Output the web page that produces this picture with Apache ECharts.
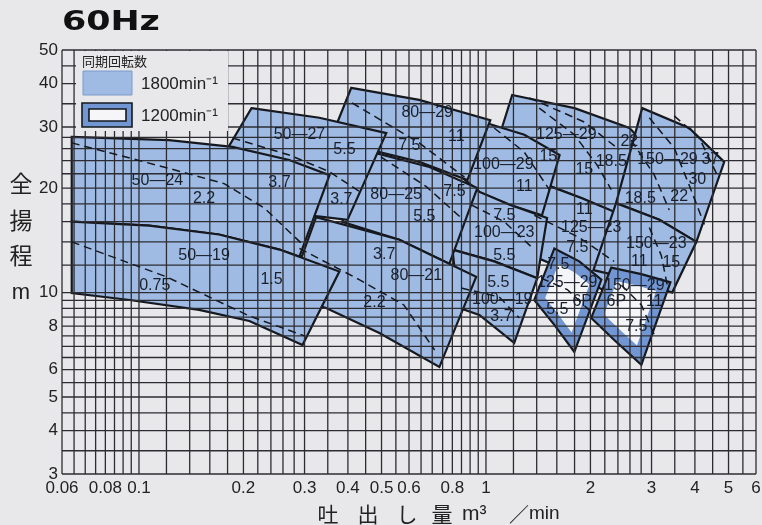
<!DOCTYPE html>
<html><head><meta charset="utf-8">
<script src="https://cdn.jsdelivr.net/npm/echarts@6/dist/echarts.min.js"></script>
<style>html,body{margin:0;padding:0;background:#e8e8ea}#c{width:762px;height:525px}</style>
</head><body><div id="c"></div>
<script>
// ---- grid / tick values ----
const gridQ = [0.06,0.065,0.07,0.075,0.08,0.085,0.09,0.095,0.1,0.12,0.14,0.16,0.18,0.2,0.22,0.24,0.26,0.28,0.3,0.35,0.4,0.45,0.5,0.55,0.6,0.65,0.7,0.75,0.8,0.85,0.9,0.95,1,1.2,1.4,1.6,1.8,2,2.2,2.4,2.6,2.8,3,3.5,4,4.5,5,5.5,6];
const gridH = [3,3.5,4,4.5,5,5.5,6,6.5,7,7.5,8,8.5,9,9.5,10,12,14,16,18,20,22,24,26,28,30,35,40,45,50];
const xTickValues = [0.06,0.08,0.1,0.2,0.3,0.4,0.5,0.6,0.8,1,2,3,4,5,6];
const xTickLabels = ['0.06','0.08','0.1','0.2','0.3','0.4','0.5','0.6','0.8','1','2','3','4','5','6'];
const yTickValues = [50,40,30,20,10,8,6,5,4,3];
const yTickLabels = ['50','40','30','20','10','8','6','5','4','3'];

// ---- pump regions [flow m3/min, head m] (top curve L->R, bottom curve R->L) ----
const r125_29 = [[1.19,37.1],[1.80,34.0],[2.59,29.8],[2.80,27.5],[2.50,16.6],[1.89,18.7],[1.50,20.4],[1.04,24.1]];
const r125_23 = [[1.50,20.4],[1.89,18.7],[2.37,17.0],[2.64,14.9],[2.24,10.0],[1.74,11.5],[1.28,13.1]];
const r150_29 = [[2.82,34.0],[3.85,29.8],[4.86,23.8],[4.04,14.0],[3.16,16.2],[2.37,18.1]];
const r150_23 = [[2.37,18.1],[3.16,16.2],[4.04,14.0],[3.44,10.0],[2.68,10.9],[2.04,11.6]];
const r100_29 = [[0.98,31.0],[1.29,28.5],[1.63,24.9],[1.45,16.7],[1.17,17.9],[0.957,19.5],[0.85,21.5]];
const r100_23 = [[0.884,20.8],[0.957,19.5],[1.17,17.9],[1.50,16.4],[1.405,11.0],[1.056,12.3],[0.80,13.3]];
const r100_19 = [[0.80,13.3],[1.056,12.3],[1.405,11.0],[1.206,7.16],[0.957,8.62],[0.838,9.03]];
const r80_29 = [[0.409,38.9],[0.642,35.9],[1.029,31.4],[0.884,21.1],[0.642,23.8],[0.493,25.4],[0.356,27.5]];
const r50_27 = [[0.211,34.0],[0.331,31.9],[0.516,28.8],[0.399,16.2],[0.324,16.6],[0.254,17.9],[0.154,20.0]];
const r80_25 = [[0.47,25.4],[0.687,23.0],[0.944,20.0],[0.784,12.1],[0.563,14.2],[0.385,16.0]];
const r80_21 = [[0.324,16.5],[0.563,14.2],[0.937,11.1],[0.734,6.10],[0.493,7.65],[0.346,9.03],[0.268,9.78]];
const r50_24 = [[0.064,28.1],[0.122,27.5],[0.186,26.3],[0.271,24.1],[0.354,21.8],[0.290,12.7],[0.254,13.3],[0.170,14.7],[0.107,15.6],[0.064,16.0]];
const r50_19 = [[0.064,16.0],[0.107,15.6],[0.170,14.7],[0.254,13.3],[0.378,11.5],[0.296,7.06],[0.208,8.28],[0.149,8.91],[0.094,9.52],[0.064,9.97]];
const r125_29_6p = [[1.574,13.4],[1.857,12.3],[2.15,10.9],[1.797,6.74],[1.574,8.07],[1.378,9.52]];
const r150_29_6p = [[2.296,11.8],[2.804,11.3],[3.40,10.7],[2.804,6.19],[2.342,7.30],[2.011,8.45]];

// ---- motor power boundaries (dashed) ----
const d50_24 = [[0.064,27.0],[0.120,22.9],[0.176,20.6],[0.230,17.5],[0.293,13.9]];
const d50_19 = [[0.064,14.0],[0.120,11.1],[0.208,8.56],[0.300,7.5]];
const d50_27 = [[0.186,27.9],[0.271,24.9],[0.354,22.3],[0.437,19.4]];
const d80_29 = [[0.411,35.2],[0.642,27.0],[0.867,21.5]];
const d80_25 = [[0.498,24.6],[0.673,20.2],[0.849,16.4]];
const d80_21 = [[0.290,13.4],[0.431,10.9],[0.580,9.21],[0.711,6.83]];
const d100_29 = [[1.056,29.8],[1.289,25.4],[1.522,19.8]];
const d100_23 = [[0.907,17.9],[1.129,16.0],[1.378,13.3]];
const d100_19 = [[0.849,10.3],[1.092,9.71],[1.247,8.45]];
const d125_29a = [[1.333,36.4],[1.920,31.0],[2.421,25.8]];
const d125_29b = [[1.424,34.0],[1.797,28.5],[2.09,23.3],[2.296,19.8]];
const d125_23 = [[1.378,16.7],[1.857,14.4],[2.34,12.3]];
const d150_29a = [[3.487,32.3],[4.119,27.9],[4.64,21.8]];
const d150_29b = [[2.956,31.9],[3.487,26.1],[3.851,20.4],[4.26,15.7]];
const d150_29c = [[2.62,27.5],[3.056,21.8],[3.374,17.3]];
const d150_23 = [[2.956,15.4],[3.20,12.8],[3.33,10.5]];
const d125_6p = [[1.443,11.0],[1.715,10.2],[2.011,8.79]];
const d150_6p = [[2.455,10.5],[2.804,9.21],[3.056,7.55]];

// ---- labels [text, flow, head] ----
const regionLabels = [
  ['50—24',0.113,21.0],['2.2',0.154,18.6],['3.7',0.254,20.7],
  ['50—19',0.154,12.8],['0.75',0.111,10.5],['1.5',0.241,10.9],
  ['50—27',0.290,28.5],['5.5',0.391,25.8],['3.7',0.383,18.5],
  ['80—29',0.677,32.9],['7.5',0.601,26.6],['11',0.821,28.1],
  ['80—25',0.551,19.1],['5.5',0.664,16.5],['7.5',0.811,19.5],
  ['3.7',0.509,12.9],['80—21',0.630,11.2],['2.2',0.477,9.33],
  ['100—29',1.122,23.3],['11',1.289,20.2],['15',1.512,24.6],
  ['7.5',1.129,16.7],['100—23',1.129,14.85],['5.5',1.129,12.8],
  ['5.5',1.085,10.66],['100—19',1.114,9.52],['3.7',1.108,8.5],
  ['125—29',1.704,28.5],['15',1.92,22.6],['18.5',2.296,23.8],['22',2.588,27.2],
  ['150—29',3.334,24.1],['37',4.43,24.1],['30',4.064,21.1],['22',3.605,18.9],['18.5',2.784,18.7],
  ['11',1.92,17.3],['125—23',2.011,15.4],['7.5',1.833,13.5],
  ['150—23',3.096,13.8],['11',2.767,12.3],['15',3.42,12.2],
  ['7.5',1.616,12.0],['125—29',1.715,10.66],['6P',1.894,9.40],['5.5',1.605,8.91],
  ['150—29',2.676,10.5],['6P',2.374,9.40],['11',3.056,9.40],['7.5',2.711,7.96]
];

const regionList = [
  {pts:r125_29,k:'a'},{pts:r125_23,k:'a'},{pts:r150_29,k:'a'},{pts:r150_23,k:'a'},
  {pts:r100_29,k:'a'},{pts:r100_23,k:'a'},{pts:r100_19,k:'a'},{pts:r80_29,k:'a'},
  {pts:r80_25,k:'a'},{pts:r50_27,k:'a'},{pts:r80_21,k:'a'},{pts:r50_24,k:'a'},
  {pts:r50_19,k:'a'},{pts:r125_29_6p,k:'b'},{pts:r150_29_6p,k:'b'}
];
const dashList = [d50_24,d50_19,d50_27,d80_29,d80_25,d80_21,d100_29,d100_23,d100_19,d125_29a,d125_29b,d125_23,d150_29a,d150_29b,d150_29c,d150_23,d125_6p,d150_6p];

const FILL = '#9fbbe3', BAND = '#7196d2', LINE = '#15181f', GRIDC = '#2c2c32', TXT = '#1a1f2b';
const QMIN = 0.06, QMAX = 6, HMIN = 3, HMAX = 50;

const chart = echarts.init(document.getElementById('c'));
chart.setOption({
  backgroundColor: '#e8e8ea',
  animation: false,
  grid: {left: 62, right: 6, top: 50, bottom: 51},
  xAxis: {type: 'log', logBase: 10, min: QMIN, max: QMAX, axisLine: {show: false}, axisTick: {show: false}, axisLabel: {show: false}, splitLine: {show: false}},
  yAxis: {type: 'log', logBase: 10, min: HMIN, max: HMAX, axisLine: {show: false}, axisTick: {show: false}, axisLabel: {show: false}, splitLine: {show: false}},
  series: [
    { type: 'custom', z: 2, data: regionList.map(r => r.pts[0]),
      renderItem: function (params, api) {
        const r = regionList[params.dataIndex];
        const pts = r.pts.map(p => api.coord(p));
        const ch = [];
        if (r.k === 'b') {
          ch.push({type: 'polygon', z2: params.dataIndex * 3, shape: {points: pts}, style: {fill: BAND, stroke: LINE, lineWidth: 2.2}});
          let cx = 0, cy = 0; pts.forEach(p => { cx += p[0]; cy += p[1]; }); cx /= pts.length; cy /= pts.length;
          const inner = pts.map(p => [cx + (p[0] - cx) * 0.66, cy + (p[1] - cy) * 0.66]);
          ch.push({type: 'polygon', z2: params.dataIndex * 3 + 1, shape: {points: inner}, style: {fill: '#f4f5f8'}});
        } else {
          ch.push({type: 'polygon', z2: params.dataIndex * 3, shape: {points: pts}, style: {fill: FILL, stroke: LINE, lineWidth: 2.2}});
        }
        return {type: 'group', children: ch};
      }
    },
    { type: 'custom', z: 3, silent: true, data: gridQ.map(v => [v, HMIN]),
      renderItem: function (params, api) {
        const v = gridQ[params.dataIndex];
        const a = api.coord([v, HMIN]), b = api.coord([v, HMAX]);
        return {type: 'line', shape: {x1: a[0], y1: a[1], x2: b[0], y2: b[1]}, style: {stroke: GRIDC, lineWidth: 1.3}};
      }
    },
    { type: 'custom', z: 3, silent: true, data: gridH.map(v => [QMIN, v]),
      renderItem: function (params, api) {
        const v = gridH[params.dataIndex];
        const a = api.coord([QMIN, v]), b = api.coord([QMAX, v]);
        return {type: 'line', shape: {x1: a[0], y1: a[1], x2: b[0], y2: b[1]}, style: {stroke: GRIDC, lineWidth: 1.3}};
      }
    },
    { type: 'custom', z: 4, silent: true, data: dashList.map(d => d[0]),
      renderItem: function (params, api) {
        const d = dashList[params.dataIndex];
        return {type: 'polyline', shape: {points: d.map(p => api.coord(p))}, style: {stroke: LINE, lineWidth: 1.5, lineDash: [8, 5], fill: null}};
      }
    },
    { type: 'custom', z: 5, silent: true, data: regionLabels.map(l => [l[1], l[2]]),
      renderItem: function (params, api) {
        const l = regionLabels[params.dataIndex];
        const p = api.coord([l[1], l[2]]);
        return {type: 'text', x: p[0], y: p[1], style: {text: l[0], fill: TXT, fontSize: 16, fontFamily: 'Liberation Sans', align: 'center', verticalAlign: 'middle'}};
      }
    },
    { type: 'custom', z: 5, silent: true, data: xTickValues.map(v => [v, HMIN]),
      renderItem: function (params, api) {
        const p = api.coord([xTickValues[params.dataIndex], HMIN]);
        return {type: 'text', x: p[0], y: p[1] + 14, style: {text: xTickLabels[params.dataIndex], fill: '#222', fontSize: 17, fontFamily: 'Liberation Sans', align: 'center', verticalAlign: 'middle'}};
      }
    },
    { type: 'custom', z: 5, silent: true, data: yTickValues.map(v => [QMIN, v]),
      renderItem: function (params, api) {
        const p = api.coord([QMIN, yTickValues[params.dataIndex]]);
        return {type: 'text', x: p[0] - 4, y: p[1], style: {text: yTickLabels[params.dataIndex], fill: '#222', fontSize: 17, fontFamily: 'Liberation Sans', align: 'right', verticalAlign: 'middle'}};
      }
    }
  ],
  graphic: [
    {type: 'text', x: 62, y: 23, scaleX: 1.29, z: 60, style: {text: '60Hz', fill: '#111', font: 'bold 27px "DejaVu Sans"', verticalAlign: 'middle'}},
    {type: 'rect', z: 50, shape: {x: 76, y: 51, width: 152, height: 80}, style: {fill: '#e8e8ea'}},
    {type: 'text', z: 60, x: 82, y: 61, style: {text: '同期回転数', fill: '#222', font: '13px "Noto Sans CJK JP"', verticalAlign: 'middle'}},
    {type: 'rect', z: 60, shape: {x: 83, y: 71, width: 49, height: 24}, style: {fill: FILL, stroke: '#7a98cc', lineWidth: 1}},
    {type: 'text', z: 60, x: 141, y: 84, style: {text: '1800min⁻¹', fill: '#222', font: '17px "Liberation Sans"', verticalAlign: 'middle'}},
    {type: 'rect', z: 60, shape: {x: 82, y: 103, width: 50, height: 24}, style: {fill: BAND, stroke: LINE, lineWidth: 1.6}},
    {type: 'rect', z: 61, shape: {x: 89, y: 109, width: 37, height: 12}, style: {fill: '#f6f6f8', stroke: LINE, lineWidth: 1.6}},
    {type: 'text', z: 60, x: 141, y: 116, style: {text: '1200min⁻¹', fill: '#222', font: '17px "Liberation Sans"', verticalAlign: 'middle'}},
    {type: 'text', z: 60, x: 21, y: 183, style: {text: '全', fill: '#222', font: '23px "Noto Sans CJK JP"', align: 'center', verticalAlign: 'middle'}},
    {type: 'text', z: 60, x: 21, y: 220, style: {text: '揚', fill: '#222', font: '23px "Noto Sans CJK JP"', align: 'center', verticalAlign: 'middle'}},
    {type: 'text', z: 60, x: 21, y: 255, style: {text: '程', fill: '#222', font: '23px "Noto Sans CJK JP"', align: 'center', verticalAlign: 'middle'}},
    {type: 'text', z: 60, x: 21, y: 293, style: {text: 'm', fill: '#222', font: '22px "Liberation Sans"', align: 'center', verticalAlign: 'middle'}},
    {type: 'text', z: 60, x: 328, y: 514, style: {text: '吐', fill: '#222', font: '21px "Noto Sans CJK JP"', align: 'center', verticalAlign: 'middle'}},
    {type: 'text', z: 60, x: 368, y: 514, style: {text: '出', fill: '#222', font: '21px "Noto Sans CJK JP"', align: 'center', verticalAlign: 'middle'}},
    {type: 'text', z: 60, x: 407, y: 514, style: {text: 'し', fill: '#222', font: '21px "Noto Sans CJK JP"', align: 'center', verticalAlign: 'middle'}},
    {type: 'text', z: 60, x: 442, y: 514, style: {text: '量', fill: '#222', font: '21px "Noto Sans CJK JP"', align: 'center', verticalAlign: 'middle'}},
    {type: 'text', z: 60, x: 462, y: 514, style: {text: 'm³', fill: '#222', font: '21px "Liberation Sans"', verticalAlign: 'middle'}},
    {type: 'text', z: 60, x: 519, y: 514, style: {text: '／', fill: '#222', font: '20px "Noto Sans CJK JP"', align: 'center', verticalAlign: 'middle'}},
    {type: 'text', z: 60, x: 529, y: 514, style: {text: 'min', fill: '#222', font: '19px "Liberation Sans"', verticalAlign: 'middle'}}
  ]
});
</script></body></html>
